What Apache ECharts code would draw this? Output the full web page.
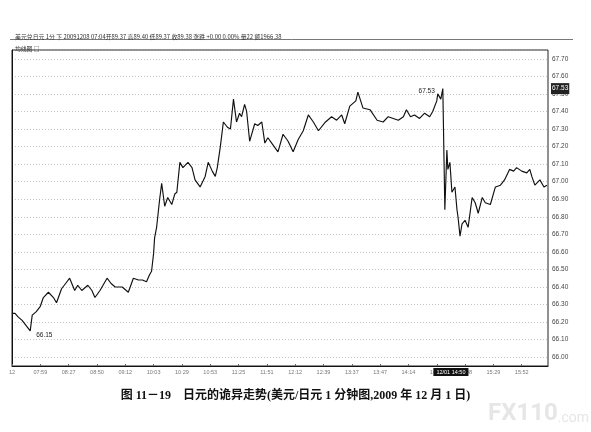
<!DOCTYPE html>
<html>
<head>
<meta charset="utf-8">
<script src="https://cdn.jsdelivr.net/npm/echarts@6/dist/echarts.min.js"></script>
<style>html,body{margin:0;padding:0;background:#fff;}#c{width:591px;height:432px;}</style>
</head>
<body>
<div id="c"></div>
<script>
// minute index (bar number from the start of the chart) and closing price
var minuteIdx = [1,3,6,10,14,18,20,24,28,31,36,41,44,49,53,57,62,65,69,75,79,82,87,91,94,98,102,109,115,120,125,129,133,136,138,140,141,143,146,148,151,154,158,161,163,166,169,174,178,181,186,191,194,198,201,203,206,209,213,216,219,222,225,227,230,232,235,240,243,247,250,253,258,263,268,273,278,283,288,293,298,303,310,316,321,326,329,334,340,342,347,354,361,367,372,377,382,387,390,394,398,403,408,413,416,420,421,424,426,428,430,431,433,435,438,440,441,443,445,448,451,455,458,461,465,468,473,478,483,487,492,496,499,504,509,512,514,517,522,526,529];
var closePrice = [66.25,66.25,66.23,66.21,66.18,66.15,66.24,66.26,66.29,66.34,66.37,66.34,66.31,66.39,66.42,66.45,66.38,66.41,66.38,66.41,66.38,66.34,66.38,66.42,66.45,66.42,66.40,66.40,66.37,66.45,66.44,66.44,66.43,66.47,66.49,66.59,66.68,66.74,66.90,66.99,66.86,66.91,66.87,66.93,66.94,67.11,67.08,67.11,67.08,67.01,66.97,67.03,67.11,67.06,67.03,67.08,67.20,67.34,67.31,67.30,67.47,67.34,67.39,67.37,67.44,67.40,67.23,67.33,67.32,67.34,67.22,67.25,67.21,67.17,67.27,67.23,67.17,67.24,67.29,67.38,67.34,67.29,67.34,67.37,67.35,67.38,67.33,67.43,67.46,67.51,67.42,67.41,67.35,67.34,67.37,67.36,67.35,67.37,67.41,67.37,67.38,67.36,67.39,67.37,67.40,67.46,67.50,67.47,67.53,66.84,67.18,67.07,67.11,66.94,66.97,66.84,66.80,66.69,66.76,66.78,66.74,66.91,66.88,66.82,66.91,66.88,66.87,66.97,66.98,67.01,67.07,67.06,67.08,67.06,67.05,67.07,67.03,66.98,67.01,66.97,66.98,66.96];
// time-axis tick labels (one every 28 bars)
var tickLabels = ['12','07:59','08:27','08:50','09:12','10:03','10:29','10:53','11:25','11:51','12:12','12:39','13:37','13:47','14:14','14:50','15:08','15:29','15:52'];
var headerText = '美元兑日元 1分 下 20091208 07:04开89.37 高89.40 低89.37 收89.38 涨跌 +0.00 0.00% 量22 额1966.38';
var subHeader = '均线图 □';
var caption = '图 11－19　日元的诡异走势(美元/日元 1 分钟图,2009 年 12 月 1 日)';
var cursorPrice = 67.53;
var cursorIdx = 434;
var cursorTime = '12/01 14:50';

var seriesData = minuteIdx.map(function (x, i) { return [x, closePrice[i]]; });

var chart = echarts.init(document.getElementById('c'));
chart.setOption({
  animation: false,
  backgroundColor: '#fff',
  title: [
    {text: headerText, left: 10, top: 29, textStyle: {fontSize: 5.9, fontWeight: 'normal', color: '#333', fontFamily: 'Noto Sans CJK SC'}},
    {text: subHeader, left: 10, top: 41, textStyle: {fontSize: 5.8, fontWeight: 'normal', color: '#333', fontFamily: 'Noto Sans CJK SC'}},
    {text: caption, left: 'center', top: 385, textStyle: {fontSize: 12, fontWeight: 'bold', color: '#111', fontFamily: '"Liberation Serif","Noto Sans CJK SC"'}}
  ],
  graphic: [
    {type: 'line', shape: {x1: 10, y1: 39.5, x2: 573, y2: 39.5}, style: {stroke: '#555', lineWidth: 0.8}},
    {type: 'text', left: 488, top: 402, style: {text: '{a|FX110}{b|.com}', rich: {a: {fontSize: 24, fontWeight: 'bold', fill: '#e6e6e6', fontFamily: 'Roboto'}, b: {fontSize: 14, fill: '#e6e6e6', fontFamily: 'Roboto', padding: [8, 0, 0, 0]}}}}
  ],
  axisPointer: {triggerOn: 'none'},
  grid: {left: 12, right: 43, top: 50, bottom: 66, show: true, borderColor: '#222', borderWidth: 1},
  xAxis: {
    type: 'value', min: 0, max: 530, interval: 28,
    axisLine: {show: true, lineStyle: {color: '#111', width: 1}},
    axisTick: {show: true, inside: true, length: 2, lineStyle: {color: '#666'}},
    splitLine: {show: false},
    axisLabel: {fontSize: 5.5, color: '#777', margin: 3, showMaxLabel: false,
      formatter: function (v) { var k = Math.round(v / 28); return (Math.abs(v - k * 28) < 0.01 && tickLabels[k]) ? tickLabels[k] : ''; }},
    axisPointer: {show: true, status: 'show', value: cursorIdx, snap: false, lineStyle: {opacity: 0},
      label: {show: true, backgroundColor: '#111', color: '#fff', fontSize: 5.5, padding: [1, 3], margin: 2, borderRadius: 0, formatter: function () { return cursorTime; }}}
  },
  yAxis: {
    type: 'value', position: 'right', min: 65.95, max: 67.75, splitNumber: 18, minInterval: 0.1, maxInterval: 0.1,
    axisLine: {show: true, lineStyle: {color: '#111', width: 1}},
    axisTick: {show: false},
    splitLine: {show: true, lineStyle: {color: '#aaa', type: [1, 2], width: 0.7}},
    axisLabel: {fontSize: 6.5, color: '#444', margin: 4,
      formatter: function (v) { var r = Math.round(v * 10) / 10; return Math.abs(v - r) < 0.001 ? r.toFixed(2) : ''; }},
    axisPointer: {show: true, status: 'show', value: cursorPrice, snap: false, lineStyle: {opacity: 0},
      label: {show: true, backgroundColor: '#222', color: '#fff', fontSize: 6.5, padding: [2, 1], margin: 3, borderRadius: 0, formatter: function (p) { return Number(p.value).toFixed(2); }}}
  },
  series: [{
    type: 'line', data: seriesData, symbol: 'none', lineStyle: {color: '#111', width: 1.15},
    markPoint: {
      symbol: 'circle', symbolSize: 0,
      data: [
        {type: 'min', label: {show: true, position: 'right', distance: 6, offset: [0, 4], fontSize: 6.5, color: '#222', formatter: function (p) { return Number(p.value).toFixed(2); }}},
        {type: 'max', label: {show: true, position: 'left', distance: 8, offset: [0, 3], fontSize: 6.5, color: '#222', formatter: function (p) { return Number(p.value).toFixed(2); }}}
      ]
    }
  }]
});
</script>
</body>
</html>
